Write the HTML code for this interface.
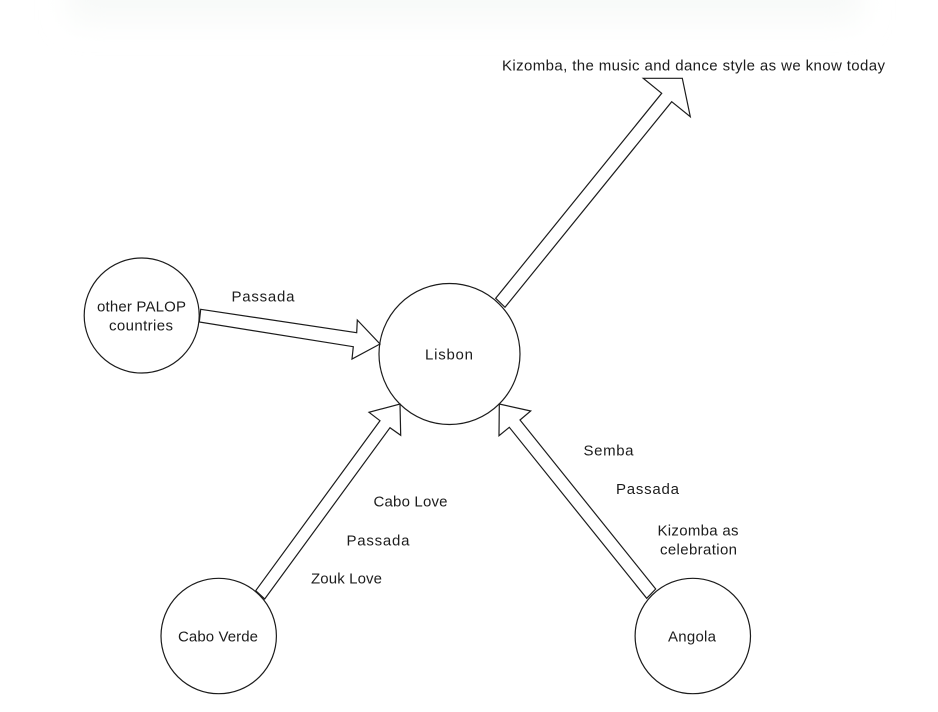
<!DOCTYPE html>
<html>
<head>
<meta charset="utf-8">
<style>
html,body{margin:0;padding:0;background:#fff;width:938px;height:712px;overflow:hidden}
svg{display:block}
text{font-family:"Liberation Sans",Arial,sans-serif;font-size:15px;fill:#1c1c1c;text-anchor:start}
</style>
</head>
<body>
<svg width="938" height="712" viewBox="0 0 938 712" xmlns="http://www.w3.org/2000/svg">
<defs>
<filter id="b" x="-20%" y="-200%" width="140%" height="500%"><feGaussianBlur stdDeviation="15"/></filter>
<filter id="s" x="-5%" y="-5%" width="110%" height="110%"><feGaussianBlur stdDeviation="0.3"/></filter>
</defs>
<rect x="70" y="-30" width="790" height="50" fill="#f7f9f8" filter="url(#b)"/>
<g filter="url(#s)">
<g fill="#fff" stroke="#1c1c1c" stroke-width="1.2" stroke-linejoin="miter">
<circle cx="449.5" cy="354" r="70.5"/>
<circle cx="141.7" cy="315.5" r="57.5"/>
<circle cx="218.7" cy="636" r="57.7"/>
<circle cx="692.8" cy="636" r="57.7"/>
<polygon points="495.7,298.3 661.7,93.3 643.3,78.3 682.3,78.3 690.3,116.7 671.7,101.7 505,307.3"/>
<polygon points="200.7,309.3 356.7,332.7 357.3,320 380,344 352,359 353.3,346.7 199.3,322"/>
<polygon points="255.7,590.7 380,420.7 369,412.3 400,404 400.7,435.3 390,427.7 264.7,599"/>
<polygon points="655.7,589 520,420 530.7,411 499.3,404 499,435.7 509.3,427.3 646.7,598.3"/>
</g>
<text x="502" y="70.5" textLength="383" lengthAdjust="spacing">Kizomba, the music and dance style as we know today</text>
<text x="231.5" y="301.5" textLength="63" lengthAdjust="spacing">Passada</text>
<text x="97" y="311.5" textLength="89" lengthAdjust="spacing">other PALOP</text>
<text x="109" y="330.5" textLength="64" lengthAdjust="spacing">countries</text>
<text x="425" y="359.5" textLength="48" lengthAdjust="spacing">Lisbon</text>
<text x="373.5" y="506.5" textLength="74" lengthAdjust="spacing">Cabo Love</text>
<text x="346.5" y="545.5" textLength="63" lengthAdjust="spacing">Passada</text>
<text x="311" y="583.5" textLength="71" lengthAdjust="spacing">Zouk Love</text>
<text x="178" y="641.5" textLength="80" lengthAdjust="spacing">Cabo Verde</text>
<text x="583.5" y="455.5" textLength="50" lengthAdjust="spacing">Semba</text>
<text x="616" y="494" textLength="63" lengthAdjust="spacing">Passada</text>
<text x="657.5" y="535.5" textLength="81" lengthAdjust="spacing">Kizomba as</text>
<text x="660" y="554.5" textLength="77" lengthAdjust="spacing">celebration</text>
<text x="668" y="641.5" textLength="48" lengthAdjust="spacing">Angola</text>
</g>
</svg>
</body>
</html>
